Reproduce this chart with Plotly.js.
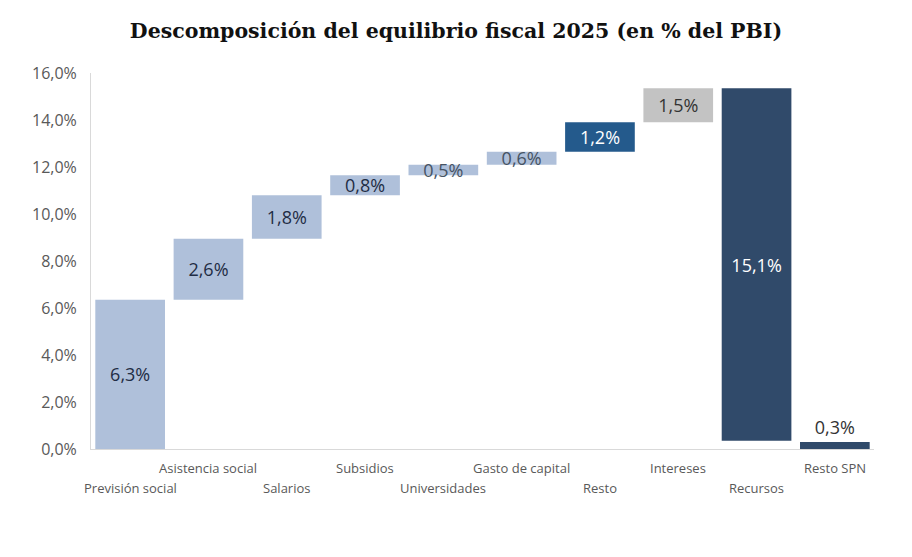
<!DOCTYPE html>
<html>
<head>
<meta charset="utf-8">
<script src="https://cdn.plot.ly/plotly-3.0.1.min.js"></script>
<style>html,body{margin:0;padding:0;background:#fff;}#chart{width:912px;height:557px;}</style>
</head>
<body>
<div id="chart"></div>
<script>
const categories = ["Previsión social","Asistencia social","Salarios","Subsidios","Universidades","Gasto de capital","Resto","Intereses","Recursos","Resto SPN"];
const values = [6.35, 2.6, 1.85, 0.85, 0.45, 0.55, 1.25, 1.45, -15.0, 0.3];
const measures = ["relative","relative","relative","relative","relative","relative","relative","relative","relative","absolute"];
const labels = ["6,3%","2,6%","1,8%","0,8%","0,5%","0,6%","1,2%","1,5%","15,1%","0,3%"];
const yTicks = [0,2,4,6,8,10,12,14,16];
const yTickLabels = ["0,0%","2,0%","4,0%","6,0%","8,0%","10,0%","12,0%","14,0%","16,0%"];

const colors = ["#AFC0DA","#AFC0DA","#AFC0DA","#AFC0DA","#AFC0DA","#AFC0DA","#245A8C","#C3C3C3","#304A6A","#304A6A"];
const textColors = ["#1F2D45","#1F2D45","#1F2D45","#1F2D45","#465364","#465364","#FFFFFF","#333333","#FFFFFF","#333333"];

let running = 0;
const bases = [], heights = [];
values.forEach((v, i) => {
  if (measures[i] === "absolute") { bases.push(0); heights.push(v); running = v; }
  else if (v >= 0) { bases.push(running); heights.push(v); running += v; }
  else { bases.push(running + v); heights.push(-v); running += v; }
});

const trace = {
  type: "bar",
  x: categories,
  y: heights,
  base: bases,
  marker: {color: colors, line: {width: 0}},
  text: labels,
  textposition: categories.map((c,i)=> i===categories.length-1 ? "outside" : "inside"),
  insidetextanchor: "middle",
  constraintext: "none",
  cliponaxis: false,
  textfont: {family: "Open Sans, sans-serif", size: 18, color: textColors},
  hoverinfo: "skip"
};

const annotations = categories.map((c, i) => ({
  x: c, xref: "x", y: 0, yref: "paper",
  text: c, showarrow: false,
  yanchor: "top", yshift: i % 2 === 0 ? -28 : -8,
  font: {family: "Open Sans, sans-serif", size: 13, color: "#595959"}
}));

const layout = {
  width: 912, height: 557,
  margin: {l: 91, r: 38, t: 73, b: 108},
  paper_bgcolor: "#fff", plot_bgcolor: "#fff",
  showlegend: false,
  bargap: 0.11,
  title: {text: "Descomposición del equilibrio fiscal 2025 (en % del PBI)", x: 0.5, xanchor: "center", y: 0.945, yanchor: "middle",
    font: {family: "DejaVu Serif, serif", size: 20.5, color: "#111", weight: "bold"}},
  xaxis: {type: "category", range: [-0.5, 9.5], showticklabels: false, showgrid: false, zeroline: false,
    showline: true, linecolor: "#D9D9D9", linewidth: 1, ticks: ""},
  yaxis: {range: [0, 16], tickmode: "array", tickvals: yTicks, ticktext: yTickLabels, showgrid: false, zeroline: false,
    showline: true, linecolor: "#D9D9D9", linewidth: 1, ticks: "", ticklabelstandoff: 10,
    tickfont: {family: "Open Sans, sans-serif", size: 16, color: "#595959"}},
  annotations: annotations
};

Plotly.newPlot("chart", [trace], layout, {displayModeBar: false, staticPlot: true});
</script>
</body>
</html>
